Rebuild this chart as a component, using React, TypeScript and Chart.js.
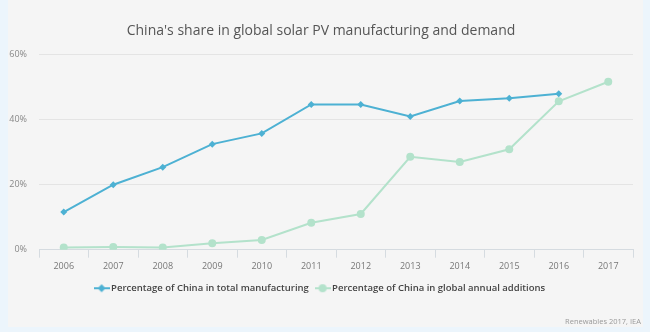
import React, { useEffect, useRef } from "react";
import { Chart, registerables } from "chart.js";

Chart.register(...registerables);

const years = ["2006", "2007", "2008", "2009", "2010", "2011", "2012", "2013", "2014", "2015", "2016", "2017"];
const manufacturing = [11.6, 20.0, 25.4, 32.5, 35.8, 44.7, 44.7, 41.0, 45.8, 46.6, 48.0, null];
const annualAdditions = [0.7, 0.8, 0.7, 2.0, 3.0, 8.3, 11.0, 28.6, 27.0, 30.9, 45.7, 51.7];
const yTicks = [0, 20, 40, 60];
const titleText = "China's share in global solar PV manufacturing and demand";
const seriesNames = ["Percentage of China in total manufacturing", "Percentage of China in global annual additions"];
const sourceText = "Renewables 2017, IEA";

const BLUE = "#4db1d3";
const GREEN = "#b3e2cb";
const FONT = "'Open Sans', sans-serif";

function legendIcon(color: string, shape: "diamond" | "circle"): HTMLCanvasElement {
  const c = document.createElement("canvas");
  c.width = 16;
  c.height = 10;
  const ctx = c.getContext("2d")!;
  ctx.strokeStyle = color;
  ctx.lineWidth = 2;
  ctx.beginPath();
  ctx.moveTo(0, 5);
  ctx.lineTo(16, 5);
  ctx.stroke();
  ctx.fillStyle = color;
  ctx.beginPath();
  if (shape === "diamond") {
    ctx.moveTo(8, 1);
    ctx.lineTo(12, 5);
    ctx.lineTo(8, 9);
    ctx.lineTo(4, 5);
    ctx.closePath();
  } else {
    ctx.arc(8, 5, 4, 0, Math.PI * 2);
  }
  ctx.fill();
  return c;
}

export default function App() {
  const ref = useRef<HTMLCanvasElement | null>(null);

  useEffect(() => {
    if (!ref.current) return;
    const icons = [legendIcon(BLUE, "diamond"), legendIcon(GREEN, "circle")];
    const chart = new Chart(ref.current, {
      type: "line",
      data: {
        labels: years,
        datasets: [
          {
            label: seriesNames[0],
            data: manufacturing,
            borderColor: BLUE,
            backgroundColor: BLUE,
            borderWidth: 2,
            pointStyle: "rectRot",
            pointRadius: 3.5,
            pointBorderWidth: 0,
            tension: 0,
          },
          {
            label: seriesNames[1],
            data: annualAdditions,
            borderColor: GREEN,
            backgroundColor: GREEN,
            borderWidth: 2,
            pointStyle: "circle",
            pointRadius: 4,
            pointBorderWidth: 0,
            tension: 0,
          },
        ],
      },
      options: {
        animation: false,
        responsive: false,
        layout: { padding: { left: 9, right: 17, top: 0, bottom: 29 } },
        plugins: {
          title: {
            display: true,
            text: titleText,
            color: "#555",
            font: { family: FONT, size: 14, weight: "normal" },
            padding: { top: 23, bottom: 15 },
          },
          legend: {
            position: "bottom",
            labels: {
              usePointStyle: true,
              color: "#444",
              font: { family: FONT, size: 9.5, weight: "600" },
              padding: 9,
              generateLabels: (chart: any) =>
                chart.data.datasets.map((ds: any, i: number) => ({
                  text: ds.label,
                  pointStyle: icons[i],
                  fillStyle: ds.borderColor,
                  strokeStyle: ds.borderColor,
                  lineWidth: 0,
                  hidden: false,
                  datasetIndex: i,
                  fontColor: "#444",
                })),
            },
          },
          tooltip: { enabled: false },
        },
        scales: {
          x: {
            offset: true,
            grid: {
              offset: true,
              drawOnChartArea: false,
              drawTicks: true,
              tickLength: 8,
              color: "#d5dbe0",
            },
            border: { display: true, color: "#d5dbe0" },
            ticks: { color: "#777", font: { family: FONT, size: 9 }, padding: 3 },
          },
          y: {
            min: 0,
            max: 60,
            afterBuildTicks: (scale: any) => {
              scale.ticks = yTicks.map((v) => ({ value: v }));
            },
            afterFit: (scale: any) => {
              scale.width = 30;
            },
            grid: { color: "#e4e4e4", drawTicks: false },
            border: { display: false },
            ticks: {
              color: "#888",
              font: { family: FONT, size: 9 },
              padding: 12,
              callback: (v: any) => v + "%",
            },
          },
        },
      },
    });
    return () => chart.destroy();
  }, []);

  return (
    <div style={{ position: "fixed", left: 0, top: 0, width: 650, height: 332, background: "#ecf5fc", overflow: "hidden" }}>
      <div style={{ position: "absolute", left: 8, top: 0, width: 635, height: 327, background: "#f5f5f5" }} />
      <canvas ref={ref} width={650} height={332} style={{ position: "absolute", left: 0, top: 0, width: 650, height: 332 }} />
      <div
        style={{
          position: "absolute",
          right: 9,
          top: 316,
          fontFamily: FONT,
          fontSize: 7.5,
          color: "#999",
          whiteSpace: "nowrap",
        }}
      >
        {sourceText}
      </div>
    </div>
  );
}
